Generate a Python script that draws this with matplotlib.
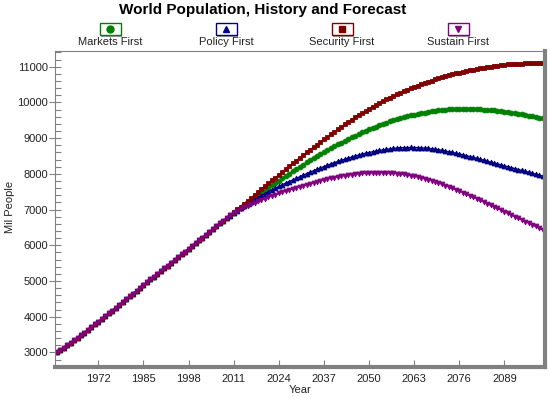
import numpy as np
import matplotlib
matplotlib.use("Agg")
import matplotlib.pyplot as plt
from matplotlib.patches import Rectangle
from matplotlib.lines import Line2D

plt.rcParams['font.family'] = ['Liberation Sans', 'DejaVu Sans']

# shared history, 1960-2008 (Mil People)
hist_years = list(range(1960, 2009))
history = [3000, 3066, 3133, 3201, 3270, 3340, 3411, 3483, 3556, 3630,
           3705, 3781, 3858, 3936, 4014, 4093, 4172, 4251, 4330, 4409,
           4488, 4567, 4646, 4725, 4804, 4883, 4962, 5041, 5120, 5198,
           5276, 5354, 5432, 5510, 5588, 5666, 5744, 5822, 5900, 5979,
           6058, 6137, 6216, 6295, 6374, 6453, 6532, 6611, 6690]

# forecasts, 2009-2100 (first value = 2009, then rows by decade)
fc_years = list(range(2009, 2101))
markets = [6758,
           6834, 6909, 6983, 7056, 7128, 7199, 7269, 7339, 7408, 7477,
           7545, 7613, 7680, 7747, 7813, 7879, 7944, 8009, 8073, 8136,
           8199, 8261, 8322, 8382, 8441, 8499, 8556, 8612, 8667, 8721,
           8774, 8826, 8877, 8927, 8976, 9024, 9071, 9116, 9160, 9203,
           9245, 9285, 9324, 9362, 9398, 9433, 9466, 9498, 9528, 9557,
           9584, 9610, 9634, 9657, 9678, 9698, 9716, 9733, 9748, 9762,
           9774, 9785, 9794, 9802, 9808, 9813, 9816, 9818, 9818, 9817,
           9815, 9811, 9806, 9800, 9793, 9785, 9776, 9766, 9755, 9743,
           9730, 9716, 9701, 9685, 9668, 9650, 9631, 9612, 9592, 9572,
           9551]
policy = [6757,
          6831, 6902, 6970, 7036, 7100, 7162, 7222, 7280, 7337, 7392,
          7446, 7498, 7549, 7599, 7647, 7694, 7740, 7785, 7829, 7872,
          7917, 7961, 8004, 8046, 8087, 8127, 8166, 8204, 8241, 8277,
          8312, 8346, 8379, 8411, 8442, 8471, 8499, 8526, 8551, 8575,
          8597, 8618, 8637, 8655, 8671, 8686, 8699, 8711, 8721, 8730,
          8734, 8737, 8738, 8737, 8734, 8729, 8722, 8713, 8702, 8689,
          8674, 8657, 8639, 8620, 8600, 8579, 8557, 8534, 8510, 8485,
          8459, 8433, 8407, 8381, 8355, 8329, 8303, 8277, 8251, 8225,
          8199, 8173, 8147, 8121, 8095, 8069, 8043, 8017, 7991, 7965,
          7939]
security = [6761,
            6842, 6923, 7004, 7085, 7166, 7247, 7328, 7409, 7490, 7571,
            7652, 7733, 7814, 7895, 7975, 8055, 8134, 8213, 8291, 8369,
            8446, 8522, 8598, 8673, 8747, 8821, 8894, 8966, 9037, 9107,
            9176, 9246, 9315, 9383, 9450, 9515, 9579, 9641, 9702, 9761,
            9819, 9875, 9930, 9983, 10035, 10085, 10134, 10181, 10227, 10271,
            10314, 10356, 10396, 10435, 10473, 10510, 10545, 10579, 10612, 10644,
            10675, 10704, 10732, 10759, 10785, 10810, 10834, 10857, 10879, 10900,
            10920, 10939, 10957, 10974, 10990, 11005, 11019, 11032, 11044, 11055,
            11065, 11072, 11078, 11083, 11087, 11090, 11093, 11095, 11096, 11097,
            11097]
sustain = [6770,
           6842, 6906, 6963, 7015, 7063, 7108, 7151, 7192, 7232, 7271,
           7309, 7346, 7382, 7417, 7451, 7484, 7516, 7548, 7579, 7610,
           7640, 7670, 7699, 7727, 7754, 7780, 7805, 7829, 7852, 7874,
           7895, 7915, 7933, 7950, 7965, 7979, 7991, 8002, 8011, 8019,
           8025, 8029, 8031, 8032, 8031, 8028, 8023, 8016, 8007, 7996,
           7983, 7968, 7951, 7932, 7911, 7888, 7863, 7836, 7807, 7776,
           7743, 7708, 7672, 7635, 7597, 7558, 7518, 7477, 7435, 7392,
           7348, 7303, 7258, 7213, 7168, 7123, 7077, 7031, 6985, 6939,
           6893, 6847, 6801, 6755, 6709, 6663, 6617, 6571, 6525, 6479,
           6433]

names = ['Markets First', 'Policy First', 'Security First', 'Sustain First']
colors = ['#008000', '#000080', '#800000', '#800080']
markers = ['o', '^', 's', 'v']
xticks = [1972, 1985, 1998, 2011, 2024, 2037, 2050, 2063, 2076, 2089]

W, H = 550, 399
def fx(x):
    return x / W
def fy(y):
    return 1 - y / H

fig = plt.figure(figsize=(W / 100, H / 100), dpi=100)
ax = fig.add_axes([fx(55), fy(367), fx(545) - fx(55), fy(51) - fy(367)])

years = np.array(hist_years + fc_years)
for vals, c, m in zip([markets, policy, security, sustain], colors, markers):
    ax.plot(years, history + vals, color=c, marker=m, markersize=3.5,
            markeredgewidth=0.6, linewidth=1)

ax.set_xlim(1959.5, 2100.7)
ax.set_ylim(2590, 11440)
ax.set_xticks(xticks)
ax.set_yticks(range(3000, 11001, 1000))
ax.yaxis.set_minor_locator(matplotlib.ticker.MultipleLocator(200))

grey = '#808080'
for side in ['left', 'top']:
    ax.spines[side].set_color(grey)
    ax.spines[side].set_linewidth(0.8)
for side in ['right', 'bottom']:
    ax.spines[side].set_color(grey)
    ax.spines[side].set_linewidth(3)

ax.tick_params(axis='x', direction='in', length=5, width=0.8, color=grey,
               labelsize=8, pad=5, labelcolor='#222222')
ax.tick_params(axis='y', which='major', direction='inout', length=8, width=0.8,
               color=grey, labelsize=8, pad=1, labelcolor='#222222')
ax.tick_params(axis='y', which='minor', direction='in', length=4, width=0.8,
               color=grey)

fig.text(fx(10), fy(207), 'Mil People', rotation=90, ha='center', va='center',
         fontsize=8, color='#222222')
fig.text(fx(300), fy(390), 'Year', ha='center', va='center', fontsize=8,
         color='#222222')
fig.text(fx(263), fy(10), 'World Population, History and Forecast',
         ha='center', va='center', fontsize=11, fontweight='bold')

# legend: boxed marker above each name
for i, (name, c, m) in enumerate(zip(names, colors, markers)):
    cx = 110 + 116 * i
    shadow = Rectangle((fx(cx - 9.5), fy(36.5)), fx(21), fy(24) - fy(36),
                       transform=fig.transFigure, facecolor='#a0a0a0',
                       edgecolor='none')
    box = Rectangle((fx(cx - 10.5), fy(35)), fx(21), fy(23) - fy(35),
                    transform=fig.transFigure, facecolor='white',
                    edgecolor=c, linewidth=1)
    fig.add_artist(shadow)
    fig.add_artist(box)
    fig.add_artist(Line2D([fx(cx)], [fy(29)], transform=fig.transFigure,
                          marker=m, color=c, markersize=5, linestyle='none'))
    fig.text(fx(cx), fy(42), name, ha='center', va='center', fontsize=8,
             color='#222222')

fig.savefig('out.png', dpi=100)
